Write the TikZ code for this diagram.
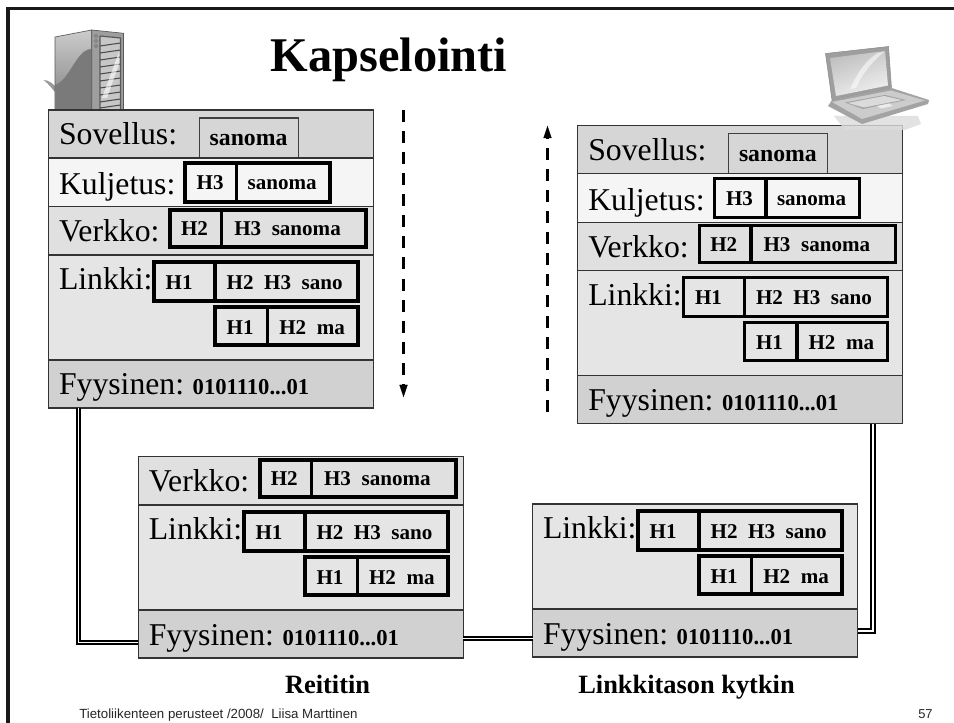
\documentclass[tikz,border=0pt]{standalone}
\usepackage{fontspec}
\setmainfont{Liberation Serif}
\newfontfamily\footfont{Liberation Sans}
\newcounter{txc}
\tikzset{
  box/.style={draw=black,rectangle,inner sep=0pt,outer sep=0pt},
  rowbox/.style={box,line width=.9pt,draw=black!80},
  thinbox/.style={box,line width=.9pt,draw=black!75},
  pdubox/.style={box,line width=2.7pt},
  tx/.style={anchor=base west,inner sep=0pt,outer sep=0pt,text=black},
  lay/.style={tx,font=\fontsize{23.8}{26}\selectfont},
  pdu/.style={tx,font=\fontsize{15.8}{18}\selectfont\bfseries},
  bits/.style={tx,font=\fontsize{17}{18}\selectfont\bfseries},
  captext/.style={tx,font=\fontsize{19.8}{22}\selectfont\bfseries},
  foot/.style={tx,font=\fontsize{9.95}{11}\selectfont\footfont,text=black!85},
  pageno/.style={tx,font=\fontsize{9.7}{11}\selectfont\footfont,text=black!85},
  wire/.style={double=white,double distance=1.2pt,line width=1.5pt,draw=black},
  flow/.style={line width=2pt,dash pattern=on 9pt off 6.8pt},
  flowtip/.style={draw=black,fill=black,line width=.1pt},
}
% name, x0, y0, x1, y1, style
\newcommand\bx[6]{%
  \pgfmathsetmacro\cxx{(#2+#4)/2}\pgfmathsetmacro\cyy{(#3+#5)/2}%
  \pgfmathsetmacro\wxx{(#4-#2)*.75}\pgfmathsetmacro\hyy{(#5-#3)*.75}%
  \node[#6,minimum width=\wxx pt,minimum height=\hyy pt] (#1) at (\cxx,\cyy) {};}
% style, x, baseline, text
\newcommand\tx[4]{\stepcounter{txc}\node[#1] (txt\arabic{txc}) at (#2,#3) {#4};}
\newcommand\sovrow[1]{%
  \bx{#1sov}{48.5}{110}{373.5}{158}{rowbox,fill=black!16}
  \bx{#1sovm}{199.5}{118}{298.5}{157.5}{thinbox}
  \tx{lay}{59}{145}{Sovellus:}
  \tx{tx,font=\fontsize{17.8}{20}\selectfont\bfseries}{209.7}{145.5}{sanoma}}
\newcommand\kulrow[1]{%
  \bx{#1kul}{48.5}{158}{373.5}{206.5}{rowbox,fill=black!4}
  \bx{#1kulh}{185}{163}{236.5}{202}{pdubox}
  \bx{#1kulp}{236.5}{163}{330}{202}{pdubox}
  \tx{lay}{59}{194.5}{Kuljetus:}
  \tx{pdu}{196.7}{190}{H3}
  \tx{pdu}{247.7}{190}{sanoma}}
\newcommand\verrow[1]{%
  \bx{#1ver}{48.5}{206.5}{373.5}{255}{rowbox,fill=black!12}
  \bx{#1verh}{170}{210}{221.5}{247}{pdubox}
  \bx{#1verp}{221.5}{210}{366}{247}{pdubox}
  \tx{lay}{59}{242}{Verkko:}
  \tx{pdu}{181}{236}{H2}
  \tx{pdu}{234.3}{236}{H3~~sanoma}}
\newcommand\linrow[1]{%
  \bx{#1lin}{48.5}{255}{373.5}{360}{rowbox,fill=black!10}
  \bx{#1linh}{154}{262}{215}{301}{pdubox}
  \bx{#1linp}{215}{262}{358}{301}{pdubox}
  \bx{#1lih}{215}{307}{267.5}{345}{pdubox}
  \bx{#1lip}{267.5}{307}{358}{345}{pdubox}
  \tx{lay}{59}{290}{Linkki:}
  \tx{pdu}{165.7}{289.3}{H1}
  \tx{pdu}{226.7}{289.3}{H2~~H3~~sano}
  \tx{pdu}{226.7}{334.3}{H1}
  \tx{pdu}{279.3}{334.3}{H2~~ma}}
\newcommand\fyyrow[1]{%
  \bx{#1fyy}{48.5}{360}{373.5}{408}{rowbox,fill=black!18}
  \tx{lay}{59}{395}{Fyysinen:}
  \tx{bits}{192.7}{395}{0101110...01}}
\begin{document}
\begin{tikzpicture}[x=.75pt,y=-.75pt]
\useasboundingbox (0,0) rectangle (954,723);
% slide edge
\draw[line width=2.6pt,draw=black!90] (8,723) -- (8,8.5) -- (954,8.5);
% server icon
\fill[black!40] (43.5,80) .. controls (49,80) and (53,84) .. (56,87) -- (56,93) .. controls (52,89) and (49,84) .. (43.5,80) -- cycle;
\shade[top color=black!20,bottom color=black!50,draw=black!65,line width=.5pt] (55,37) -- (91.7,30) -- (91.7,110) -- (55,110) -- cycle;
\fill[black!52] (55,85) .. controls (70,80) and (76,50) .. (91,49) -- (91,110) -- (55,110) -- cycle;
\fill[black!38] (91.7,30) -- (123.5,33.3) -- (123.5,110) -- (91.7,110) -- cycle;
\draw[black!65,line width=.5pt] (91.7,30) -- (123.5,33.3) -- (123.5,110) (91.7,30) -- (91.7,110);
\fill[black!22] (100,36) -- (120.5,38) -- (120.5,110) -- (100,110) -- cycle;
\draw[black!65,line width=.9pt] (100,36) -- (120.5,38) -- (120.5,110) (100,36) -- (100,110);
\foreach \yy in {43,50,57,64,71,78,85,92,99,105}
  \draw[black!70,line width=.8pt] (100,\yy+3) -- (120.5,\yy);
\fill[white,opacity=.6] (102,98) -- (119,52) -- (119,64) -- (107,98) -- cycle;
\foreach \yy in {36,41,46}
  \draw[black!65,fill=black!25,line width=.4pt] (96,\yy) circle (1.6);
% stacks
\begin{scope}\sovrow{A}\kulrow{A}\verrow{A}\linrow{A}\fyyrow{A}\end{scope}
\begin{scope}[shift={(529.3,15.7)}]\sovrow{B}\kulrow{B}\verrow{B}\linrow{B}\fyyrow{B}\end{scope}
\begin{scope}[shift={(89.8,250)}]\verrow{C}\linrow{C}\fyyrow{C}\end{scope}
\begin{scope}[shift={(484,249)}]\linrow{D}\fyyrow{D}\end{scope}
% laptop shadow
\fill[black!14,opacity=.8] (834,116) -- (918,116) -- (921,124) -- (905,130) -- (845,130) -- cycle;
% laptop icon
\fill[black!38,draw=black!45,line width=.4pt] (825.5,53.5) -- (888.5,46.5) -- (891.5,88.5) -- (832,100) -- cycle;
\shade[left color=black!25,right color=black!6,shading angle=20] (830,58) -- (885,51) -- (888,85.5) -- (836,96) -- cycle;
\fill[white,opacity=.55] (850,89) .. controls (858,72) and (866,60) .. (878,53) -- (884,52) .. controls (872,62) and (862,74) .. (856,88) -- cycle;
\fill[black!36] (828,106) -- (832,100) -- (891.5,88) -- (929,100) -- (928,104) -- (862,124) -- cycle;
\fill[black!20] (832,102) -- (891,90.5) -- (925,100.5) -- (862,119) -- cycle;
\fill[black!36] (845,102.5) -- (885,95) -- (906,100) -- (863,109) -- cycle;
\fill[black!14] (848,103) -- (884,96) -- (902,100) -- (864,107.5) -- cycle;
\fill[black!8] (877,106) -- (889,103.5) -- (893,106) -- (881,108.5) -- cycle;
% links
\coordinate (elbowA) at (78.5,642.5);
\coordinate (elbowB) at (873,631);
\coordinate (midwire) at (500,638.5);
\draw[wire] (elbowA |- Afyy.south) -- (elbowA) -- (Cfyy.west |- elbowA);
\draw[wire] (Cfyy.east |- midwire) -- (Dfyy.west |- midwire);
\draw[wire] (Dfyy.east |- elbowB) -- (elbowB) -- (elbowB |- Bfyy.south);
% direction arrows
\coordinate (downA) at (403.5,110); \coordinate (downB) at (403.5,385);
\coordinate (upA) at (547.5,412.5); \coordinate (upB) at (547.5,138);
\draw[flow] (downA) -- (downB);
\draw[flow] (upA) -- (upB);
\fill[flowtip] (399.5,385) -- (407.5,385) -- (403.5,397) -- cycle;
\fill[flowtip] (543.5,138) -- (551.5,138) -- (547.5,126) -- cycle;
% captions
\tx{tx,font=\fontsize{36.3}{40}\selectfont\bfseries}{270.7}{71.7}{Kapselointi}
\tx{captext}{285}{693}{Reititin}
\tx{captext}{578.3}{693}{Linkkitason kytkin}
\tx{foot}{79.3}{718}{Tietoliikenteen perusteet /2008/~~Liisa Marttinen}
\tx{pageno}{918.3}{718}{57}
\end{tikzpicture}
\end{document}
